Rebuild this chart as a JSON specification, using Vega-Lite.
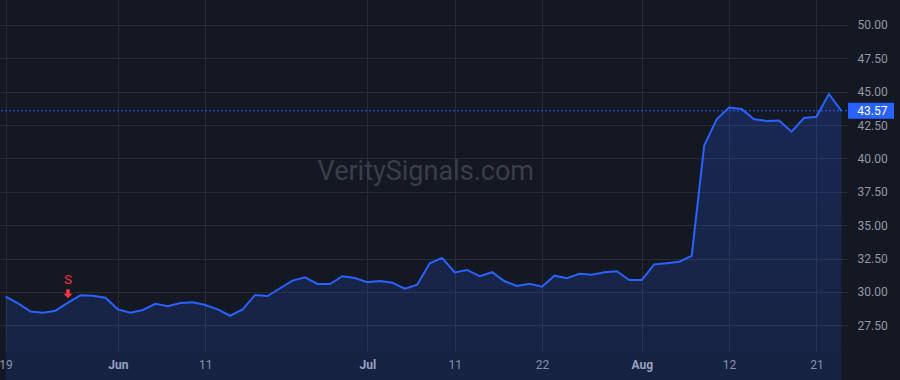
{
  "$schema": "https://vega.github.io/schema/vega-lite/v6.json",
  "width": 847,
  "height": 351,
  "autosize": {"type": "none"},
  "padding": {"left": 0, "top": 0, "right": 53, "bottom": 29},
  "background": "#141823",
  "config": {
    "view": {"stroke": null},
    "font": "Roboto",
    "axis": {"gridColor": "#282c37", "gridWidth": 1, "domain": false, "ticks": false, "title": null}
  },
  "datasets": {
    "prices": [
      {"date": "2025-05-19", "close": 29.65},
      {"date": "2025-05-20", "close": 29.15},
      {"date": "2025-05-21", "close": 28.53},
      {"date": "2025-05-22", "close": 28.45},
      {"date": "2025-05-23", "close": 28.60},
      {"date": "2025-05-27", "close": 29.20},
      {"date": "2025-05-28", "close": 29.75},
      {"date": "2025-05-29", "close": 29.72},
      {"date": "2025-05-30", "close": 29.57},
      {"date": "2025-06-02", "close": 28.70},
      {"date": "2025-06-03", "close": 28.45},
      {"date": "2025-06-04", "close": 28.65},
      {"date": "2025-06-05", "close": 29.12},
      {"date": "2025-06-06", "close": 28.93},
      {"date": "2025-06-09", "close": 29.18},
      {"date": "2025-06-10", "close": 29.23},
      {"date": "2025-06-11", "close": 29.03},
      {"date": "2025-06-12", "close": 28.70},
      {"date": "2025-06-13", "close": 28.22},
      {"date": "2025-06-16", "close": 28.70},
      {"date": "2025-06-17", "close": 29.78},
      {"date": "2025-06-18", "close": 29.70},
      {"date": "2025-06-20", "close": 30.28},
      {"date": "2025-06-23", "close": 30.85},
      {"date": "2025-06-24", "close": 31.10},
      {"date": "2025-06-25", "close": 30.60},
      {"date": "2025-06-26", "close": 30.60},
      {"date": "2025-06-27", "close": 31.18},
      {"date": "2025-06-30", "close": 31.05},
      {"date": "2025-07-01", "close": 30.73},
      {"date": "2025-07-02", "close": 30.82},
      {"date": "2025-07-03", "close": 30.70},
      {"date": "2025-07-07", "close": 30.25},
      {"date": "2025-07-08", "close": 30.55},
      {"date": "2025-07-09", "close": 32.15},
      {"date": "2025-07-10", "close": 32.55},
      {"date": "2025-07-11", "close": 31.47},
      {"date": "2025-07-14", "close": 31.65},
      {"date": "2025-07-15", "close": 31.18},
      {"date": "2025-07-16", "close": 31.48},
      {"date": "2025-07-17", "close": 30.80},
      {"date": "2025-07-18", "close": 30.45},
      {"date": "2025-07-21", "close": 30.62},
      {"date": "2025-07-22", "close": 30.40},
      {"date": "2025-07-23", "close": 31.22},
      {"date": "2025-07-24", "close": 31.03},
      {"date": "2025-07-25", "close": 31.37},
      {"date": "2025-07-28", "close": 31.30},
      {"date": "2025-07-29", "close": 31.47},
      {"date": "2025-07-30", "close": 31.55},
      {"date": "2025-07-31", "close": 30.90},
      {"date": "2025-08-01", "close": 30.90},
      {"date": "2025-08-04", "close": 32.07},
      {"date": "2025-08-05", "close": 32.15},
      {"date": "2025-08-06", "close": 32.27},
      {"date": "2025-08-07", "close": 32.70},
      {"date": "2025-08-08", "close": 40.96},
      {"date": "2025-08-11", "close": 42.94},
      {"date": "2025-08-12", "close": 43.82},
      {"date": "2025-08-13", "close": 43.71},
      {"date": "2025-08-14", "close": 42.94},
      {"date": "2025-08-15", "close": 42.81},
      {"date": "2025-08-18", "close": 42.84},
      {"date": "2025-08-19", "close": 42.01},
      {"date": "2025-08-20", "close": 43.03},
      {"date": "2025-08-21", "close": 43.13},
      {"date": "2025-08-22", "close": 44.83},
      {"date": "2025-08-25", "close": 43.57}
    ],
    "signals": [
      {"date": "2025-05-27", "close": 29.20, "label": "S"}
    ],
    "watermark": [
      {"date": "2025-07-09", "close": 38.95, "label": "VeritySignals.com"}
    ]
  },
  "data": {"name": "prices"},
  "encoding": {
    "x": {
      "field": "date",
      "type": "ordinal",
      "scale": {"type": "point", "padding": 0.45},
      "axis": {
        "values": ["2025-05-19", "2025-06-02", "2025-06-11", "2025-07-01", "2025-07-11", "2025-07-22", "2025-08-01", "2025-08-12", "2025-08-21"],
        "labelExpr": "(datum.value=='2025-06-02'||datum.value=='2025-07-01'||datum.value=='2025-08-01') ? utcFormat(toDate(datum.value),'%b') : utcFormat(toDate(datum.value),'%-d')",
        "labelAngle": 0,
        "labelPadding": 8,
        "labelFontSize": 12,
        "labelColor": {"condition": {"test": "datum.value=='2025-06-02'||datum.value=='2025-07-01'||datum.value=='2025-08-01'", "value": "#a9acb5"}, "value": "#9598a1"},
        "labelFontWeight": {"condition": {"test": "datum.value=='2025-06-02'||datum.value=='2025-07-01'||datum.value=='2025-08-01'", "value": "bold"}, "value": "normal"},
        "grid": true
      }
    },
    "y": {
      "field": "close",
      "type": "quantitative",
      "scale": {"domain": [25.58, 51.87], "nice": false, "zero": false},
      "axis": {
        "orient": "right",
        "values": [27.5, 30, 32.5, 35, 37.5, 40, 42.5, 45, 47.5, 50],
        "format": ".2f",
        "labelPadding": 10,
        "labelFontSize": 12,
        "labelColor": "#9598a1",
        "grid": true
      }
    }
  },
  "layer": [
    {
      "mark": {
        "type": "area",
        "color": {
          "gradient": "linear",
          "x1": 1, "y1": 1, "x2": 1, "y2": 0,
          "stops": [
            {"offset": 0, "color": "rgba(41,98,255,0.05)"},
            {"offset": 1, "color": "rgba(41,98,255,0.22)"}
          ]
        }
      }
    },
    {
      "mark": {"type": "line", "color": "#2962ff", "strokeWidth": 2}
    },
    {
      "transform": [{"filter": "datum.date == '2025-08-25'"}],
      "mark": {"type": "rule", "color": "#2962ff", "strokeWidth": 1, "strokeDash": [2, 2], "opacity": 0.9},
      "encoding": {"x": null}
    },
    {
      "transform": [{"filter": "datum.date == '2025-08-25'"}],
      "mark": {"type": "point", "shape": "M0.83,-1L6.58,-1L6.58,1L0.83,1Z", "size": 256, "filled": true, "opacity": 1, "color": "#2962ff", "clip": false}
    },
    {
      "transform": [{"filter": "datum.date == '2025-08-25'"}],
      "mark": {"type": "text", "color": "#ffffff", "fontSize": 12, "align": "center", "baseline": "middle", "dx": 31, "clip": false},
      "encoding": {"text": {"field": "close", "type": "quantitative", "format": ".2f"}}
    },
    {
      "data": {"name": "signals"},
      "mark": {"type": "point", "shape": "M-0.4,-1L0.4,-1L0.4,0L1,0L0,1L-1,0L-0.4,0Z", "size": 81, "filled": true, "opacity": 1, "color": "#f23645", "yOffset": -9}
    },
    {
      "data": {"name": "signals"},
      "mark": {"type": "text", "color": "#f23645", "fontSize": 13, "align": "center", "baseline": "middle", "dy": -23},
      "encoding": {"text": {"field": "label"}}
    },
    {
      "data": {"name": "watermark"},
      "mark": {"type": "text", "color": "#3a3e49", "fontSize": 27, "align": "center", "baseline": "middle", "dx": -4},
      "encoding": {"text": {"field": "label"}}
    }
  ]
}
